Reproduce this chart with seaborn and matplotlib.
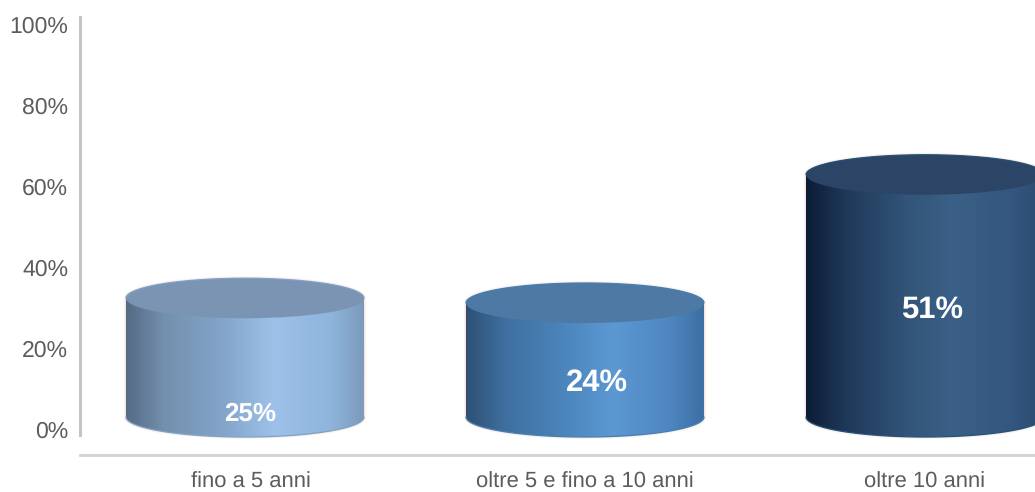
import numpy as np
import pandas as pd
import matplotlib
matplotlib.use("Agg")
import matplotlib.pyplot as plt
from matplotlib.colors import LinearSegmentedColormap
from matplotlib.patches import Ellipse, PathPatch
from matplotlib.path import Path
from matplotlib.transforms import ScaledTranslation
import seaborn as sns

categories = ["fino a 5 anni", "oltre 5 e fino a 10 anni", "oltre 10 anni"]
values = [25, 24, 51]
value_labels = ["25%", "24%", "51%"]
pct_ticks = [0, 20, 40, 60, 80, 100]
pct_labels = ["0%", "20%", "40%", "60%", "80%", "100%"]

side_stops = [0.0, 0.16, 0.42, 0.62, 0.86, 1.0]
side_colors = [
    ["#566b84", "#7390ae", "#84a6cb", "#9dc1e8", "#8fb5dd", "#7b9abb"],
    ["#2f5072", "#3e6f9f", "#4c86bd", "#5c98d2", "#4f86c1", "#3c6fa3"],
    ["#0c1c36", "#1e3858", "#325478", "#3b6087", "#345680", "#2c4c70"],
]
top_colors = ["#7b94b3", "#4e79a4", "#2c4465"]
rim_colors = ["#7aa3c9", "#3f82b4", "#1f5578"]
label_sizes = [18.5, 22, 22]
label_y = [0.6, 7.2, 22.6]
label_dx = [0.015, 0.035, 0.02]

W, H = 1035, 492
sns.set_theme(style="white")
plt.rcParams["font.family"] = ["Liberation Sans", "DejaVu Sans"]
plt.rcParams["text.hinting"] = "none"
plt.rcParams["text.hinting_factor"] = 1

fig = plt.figure(figsize=(W / 100, H / 100), dpi=100, facecolor="white")
ax = fig.add_axes([80 / W, 1 - 455 / H, (W - 80) / W, (455 - 17) / H])

df = pd.DataFrame({"cat": categories, "val": values})
sns.barplot(data=df, x="cat", y="val", hue="cat", palette=[c[3] for c in side_colors],
            width=238 / 340, legend=False, saturation=1, ax=ax)

# scales: 340 px per category; bar axis 4.75 px per point with base at pixel 417
xlim = (-165 / 340, (W - 245) / 340)
ylim = (-38 / 4.75, 400 / 4.75)
ax.set_xlim(*xlim)
ax.set_ylim(*ylim)
ell_h = 20 / 4.75

t = np.linspace(0, np.pi, 120)
for i, bar in enumerate(list(ax.patches)[:3]):
    x0, w, h = bar.get_x(), bar.get_width(), bar.get_height()
    bar.set_visible(False)
    cx, rx = x0 + w / 2, w / 2
    # silhouette of the cylinder: top half-ellipse, then bottom half-ellipse
    top = np.column_stack([cx - rx * np.cos(t), h + ell_h * np.sin(t)])
    bot = np.column_stack([cx + rx * np.cos(t), -ell_h * np.sin(t)])
    verts = np.vstack([top, bot, top[:1]])
    path = Path(verts, closed=False)

    # soft pale halo around the silhouette
    for lw, a in [(3.0, 0.18), (1.6, 0.35)]:
        ax.add_patch(PathPatch(path, facecolor="none", edgecolor="#f5c4ba", lw=lw, alpha=a, zorder=2))

    cmap = LinearSegmentedColormap.from_list(f"c{i}", list(zip(side_stops, side_colors[i])))
    im = ax.imshow(np.linspace(0, 1, 256)[None, :], cmap=cmap, aspect="auto",
                   extent=(cx - rx, cx + rx, -ell_h, h + ell_h), zorder=3,
                   interpolation="bilinear")
    clip = PathPatch(path, transform=ax.transData)
    im.set_clip_path(clip)

    ax.add_patch(Ellipse((cx, h), 2 * rx, 2 * ell_h, facecolor=top_colors[i],
                         edgecolor="none", zorder=4))
    ax.plot(top[:, 0], top[:, 1], color=rim_colors[i], lw=0.9, zorder=5)
    ax.plot(bot[:, 0], bot[:, 1], color=rim_colors[i], lw=0.9, zorder=5)

    ax.text(cx + label_dx[i], label_y[i], value_labels[i], color="white", weight="bold",
            fontsize=label_sizes[i], ha="center", va="center", zorder=6)

ax.set_xlim(*xlim)
ax.set_ylim(*ylim)
ax.set_xlabel("")
ax.set_ylabel("")
ax.set_yticks([])
ax.set_xticks(range(len(categories)))
ax.set_xticklabels(categories, fontsize=16.0, color="#5c5c5c")
ax.tick_params(axis="x", length=0, pad=12)
first = ax.get_xticklabels()[0]
first.set_transform(first.get_transform() + ScaledTranslation(6 / 100, 0, fig.dpi_scale_trans))

for s in ["top", "right", "left"]:
    ax.spines[s].set_visible(False)
ax.spines["bottom"].set_color("#d2d2d4")
ax.spines["bottom"].set_linewidth(2.0)

# percentage axis: 4.05 px per point with 0% at pixel 430
pct = ax.twinx()
pct.set_ylim(-25 / 4.05, 413 / 4.05)
pct.yaxis.tick_left()
pct.set_yticks(pct_ticks)
pct.set_yticklabels(pct_labels, fontsize=16.3, color="#5c5c5c", va="center")
pct.tick_params(axis="y", length=0, pad=8.5)
pct.grid(False)
for lab in pct.get_yticklabels():
    lab.set_transform(lab.get_transform() + ScaledTranslation(0, -1.5 / 100, fig.dpi_scale_trans))
for s in ["top", "right", "bottom"]:
    pct.spines[s].set_visible(False)
pct.spines["left"].set_color("#c3c3c8")
pct.spines["left"].set_linewidth(2.2)
pct.spines["left"].set_bounds(-5 / 4.05, 413 / 4.05)

fig.savefig("out.png", dpi=100, facecolor="white")
